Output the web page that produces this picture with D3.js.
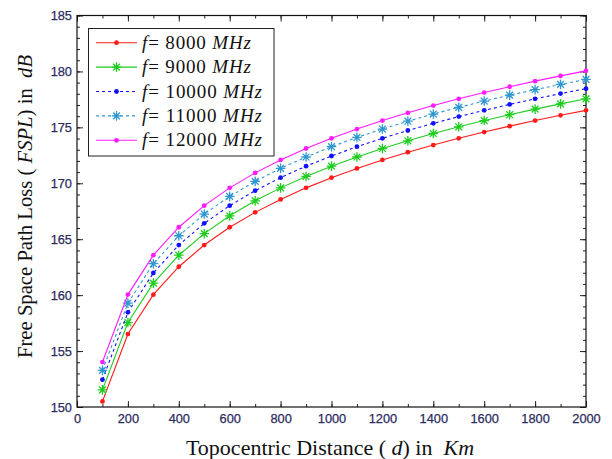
<!DOCTYPE html>
<html><head><meta charset="utf-8">
<script src="https://cdn.jsdelivr.net/npm/d3@7"></script>
<style>body{margin:0;background:#fff}svg{display:block}</style>
</head><body>
<svg id="c" width="612" height="459"></svg>
<script>
const distances = [100,200,300,400,500,600,700,800,900,1000,1100,1200,1300,1400,1500,1600,1700,1800,1900,2000];
const f8000  = [150.50,156.52,160.04,162.54,164.48,166.07,167.40,168.56,169.59,170.50,171.33,172.09,172.78,173.42,174.02,174.58,175.11,175.61,176.08,176.52];
const f9000  = [151.53,157.55,161.07,163.57,165.50,167.09,168.43,169.59,170.61,171.53,172.35,173.11,173.80,174.45,175.05,175.61,176.13,176.63,177.10,177.55];
const f10000 = [152.44,158.46,161.98,164.48,166.42,168.00,169.34,170.50,171.53,172.44,173.27,174.02,174.72,175.36,175.96,176.52,177.05,177.55,178.02,178.46];
const f11000 = [153.27,159.29,162.81,165.31,167.25,168.83,170.17,171.33,172.35,173.27,174.10,174.85,175.55,176.19,176.79,177.35,177.88,178.37,178.84,179.29];
const f12000 = [154.02,160.05,163.57,166.07,168.00,169.59,170.93,172.09,173.11,174.02,174.85,175.61,176.30,176.95,177.55,178.11,178.63,179.13,179.60,180.05];
const seriesNames = ["8000","9000","10000","11000","12000"];
const xTicks = [0,200,400,600,800,1000,1200,1400,1600,1800,2000];
const yTicks = [150,155,160,165,170,175,180,185];

const series = [
  {name: seriesNames[0], values: f8000,  color:"#ff1a1a", dash:null,  marker:"dot"},
  {name: seriesNames[1], values: f9000,  color:"#1fcc1f", dash:null,  marker:"star"},
  {name: seriesNames[2], values: f10000, color:"#1010ff", dash:"3,3", marker:"dot"},
  {name: seriesNames[3], values: f11000, color:"#2f97d0", dash:"3,3", marker:"star"},
  {name: seriesNames[4], values: f12000, color:"#ff1aff", dash:null,  marker:"dot"}
];

const svg = d3.select("#c");
const L=77, R=586, T=15.5, B=407;
const x = d3.scaleLinear().domain([0,2000]).range([L,R]);
const y = d3.scaleLinear().domain([150,185]).range([B,T]);

const tickColor="#222";
const labelColor="#2b2b5e";
const fmt = d3.format("d");
function styleAxis(g){
  g.select(".domain").remove();
  g.selectAll("line").attr("stroke",tickColor).attr("stroke-width",1);
}
function styleLabels(g){
  g.selectAll("text").attr("fill",labelColor)
    .attr("font-family","Liberation Sans, Arial, sans-serif").attr("font-size","12.8px")
    .attr("stroke",labelColor).attr("stroke-width",0.25);
}
// bottom
svg.append("g").attr("transform",`translate(0,${B})`)
  .call(d3.axisBottom(x).tickValues(d3.range(0,2001,100)).tickSize(-3).tickFormat(""))
  .call(styleAxis);
svg.append("g").attr("transform",`translate(0,${B})`)
  .call(d3.axisBottom(x).tickValues(xTicks).tickSize(-6).tickPadding(7).tickFormat(fmt))
  .call(styleAxis).call(styleLabels);
// top
svg.append("g").attr("transform",`translate(0,${T})`)
  .call(d3.axisTop(x).tickValues(d3.range(0,2001,100)).tickSize(-3).tickFormat(""))
  .call(styleAxis);
svg.append("g").attr("transform",`translate(0,${T})`)
  .call(d3.axisTop(x).tickValues(xTicks).tickSize(-6).tickFormat(""))
  .call(styleAxis);
// left
svg.append("g").attr("transform",`translate(${L},0)`)
  .call(d3.axisLeft(y).tickValues(d3.range(150,185.1,1)).tickSize(-3).tickFormat(""))
  .call(styleAxis);
svg.append("g").attr("transform",`translate(${L},0)`)
  .call(d3.axisLeft(y).tickValues(yTicks).tickSize(-6).tickPadding(5).tickFormat(fmt))
  .call(styleAxis).call(styleLabels);
// right
svg.append("g").attr("transform",`translate(${R},0)`)
  .call(d3.axisRight(y).tickValues(d3.range(150,185.1,1)).tickSize(-3).tickFormat(""))
  .call(styleAxis);
svg.append("g").attr("transform",`translate(${R},0)`)
  .call(d3.axisRight(y).tickValues(yTicks).tickSize(-6).tickFormat(""))
  .call(styleAxis);

// frame
svg.append("rect").attr("x",L).attr("y",T).attr("width",R-L).attr("height",B-T)
  .attr("fill","none").attr("stroke","#111").attr("stroke-width",1.2);

function drawMarker(g, type, cx, cy, color){
  if(type==="dot"){
    g.append("circle").attr("cx",cx).attr("cy",cy).attr("r",2.4).attr("fill",color);
  } else {
    const s=4.8, d=3.4;
    const p = `M${cx-s},${cy}L${cx+s},${cy}M${cx},${cy-s}L${cx},${cy+s}M${cx-d},${cy-d}L${cx+d},${cy+d}M${cx-d},${cy+d}L${cx+d},${cy-d}`;
    g.append("path").attr("d",p).attr("stroke",color).attr("stroke-width",1.3).attr("fill","none");
  }
}

const line = d3.line().x(d=>x(d[0])).y(d=>y(d[1]));
const plot = svg.append("g");
series.forEach(s=>{
  const pts = distances.map((d,i)=>[d,s.values[i]]);
  plot.append("path").datum(pts).attr("d",line).attr("fill","none")
    .attr("stroke",s.color).attr("stroke-width",1.1)
    .attr("stroke-dasharray",s.dash);
  const mg = plot.append("g");
  pts.forEach(p=>drawMarker(mg,s.marker,x(p[0]),y(p[1]),s.color));
});

// legend
const lg = svg.append("g");
lg.append("rect").attr("x",88.5).attr("y",28.5).attr("width",185.5).attr("height",127.5)
  .attr("fill","#fff").attr("stroke","#222").attr("stroke-width",1);
series.forEach((s,i)=>{
  const yy = 42.7 + i*24.4;
  lg.append("line").attr("x1",96).attr("x2",137).attr("y1",yy).attr("y2",yy)
    .attr("stroke",s.color).attr("stroke-width",1.1).attr("stroke-dasharray",s.dash);
  drawMarker(lg,s.marker,116.5,yy,s.color);
  const t = lg.append("text").attr("x",142).attr("y",yy+6)
    .attr("font-family","Liberation Serif, serif").attr("font-size","19px").attr("fill","#111")
    .attr("textLength", s.name.length>4 ? 120 : 109).attr("lengthAdjust","spacing")
    .style("white-space","pre");
  t.append("tspan").attr("font-style","italic").text("f");
  t.append("tspan").text("= "+s.name+" ");
  t.append("tspan").attr("font-style","italic").text("MHz");
});

// axis titles
const xt = svg.append("text").attr("x",330).attr("y",455).attr("text-anchor","middle")
  .attr("font-family","Liberation Serif, serif").attr("font-size","22px").attr("fill","#111").style("white-space","pre");
xt.append("tspan").text("Topocentric Distance ( ");
xt.append("tspan").attr("font-style","italic").text("d");
xt.append("tspan").text(") in  ");
xt.append("tspan").attr("font-style","italic").text("Km");

const yt = svg.append("text").attr("transform",`translate(32,206.5) rotate(-90)`).attr("text-anchor","middle")
  .attr("font-family","Liberation Serif, serif").attr("font-size","21px").attr("fill","#111").style("white-space","pre")
  .attr("textLength",303).attr("lengthAdjust","spacingAndGlyphs");
yt.append("tspan").text("Free Space Path Loss ( ");
yt.append("tspan").attr("font-style","italic").text("FSPL");
yt.append("tspan").text(") in  ");
yt.append("tspan").attr("font-style","italic").text("dB");
</script>
</body></html>
